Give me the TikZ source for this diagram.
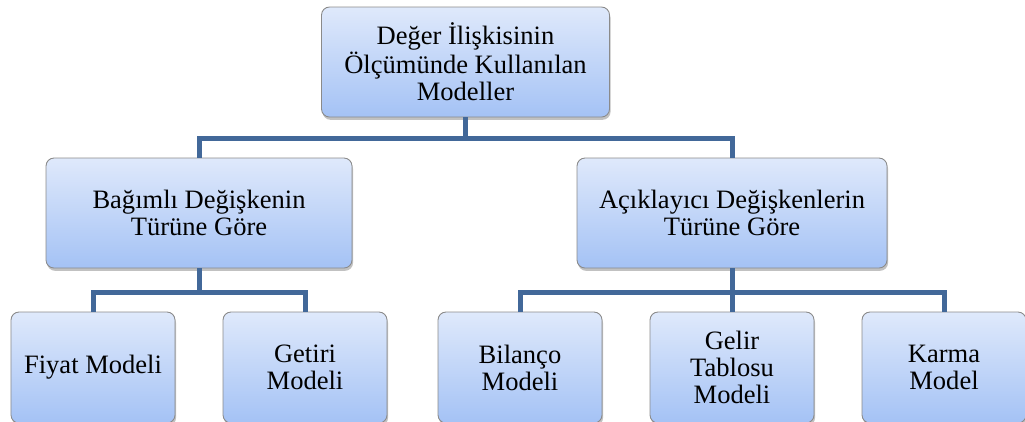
\documentclass[tikz,border=0pt]{standalone}
\usepackage{fontspec}
\setmainfont{Liberation Serif}
\usetikzlibrary{shadows}
\definecolor{boxtop}{RGB}{223,233,251}
\definecolor{boxbottom}{RGB}{164,194,245}
\definecolor{boxline}{RGB}{138,138,138}
\definecolor{linkblue}{RGB}{66,104,153}
\tikzset{
  modelbox/.style={draw=boxline,line width=0.5pt,rounded corners=0.16cm,top color=boxtop,bottom color=boxbottom,
    align=center,minimum height=2.2cm,inner sep=2pt,font=\fontsize{15.1}{15.3}\selectfont,
    drop shadow={shadow xshift=0.6pt,shadow yshift=-1.6pt,opacity=0.35,fill=black!70}},
  leafbox/.style={modelbox,minimum width=3.28cm,minimum height=2.22cm}
}
\begin{document}
\begin{tikzpicture}[edge from parent/.style={draw=linkblue,line width=0.1cm},
  level 1/.style={level distance=3.02cm,sibling distance=10.66cm,
    edge from parent path={(\tikzparentnode.south) -- ++(0,-0.42) -| (\tikzchildnode.north)}},
  level 2/.style={level distance=3.09cm,sibling distance=4.24cm,
    edge from parent path={(\tikzparentnode.south) -- ++(0,-0.48) -| (\tikzchildnode.north)}}]
\useasboundingbox (0,0) rectangle (20.5,-8.42);
\node[modelbox,minimum width=5.76cm] (root) at (9.31,-1.24) {Değer İlişkisinin\\Ölçümünde Kullanılan\\Modeller}
  child{node[modelbox,minimum width=6.12cm] (bagimli) {Bağımlı Değişkenin\\Türüne Göre}
    child{node[leafbox] (fiyat) {Fiyat Modeli}}
    child{node[leafbox] (getiri) {Getiri\\Modeli}}}
  child{node[modelbox,minimum width=6.2cm] (aciklayici) {Açıklayıcı Değişkenlerin\\Türüne Göre}
    child{node[leafbox] (bilanco) {Bilanço\\Modeli}}
    child{node[leafbox] (gelir) {Gelir\\Tablosu\\Modeli}}
    child{node[leafbox] (karma) {Karma\\Model}}};
\end{tikzpicture}
\end{document}
